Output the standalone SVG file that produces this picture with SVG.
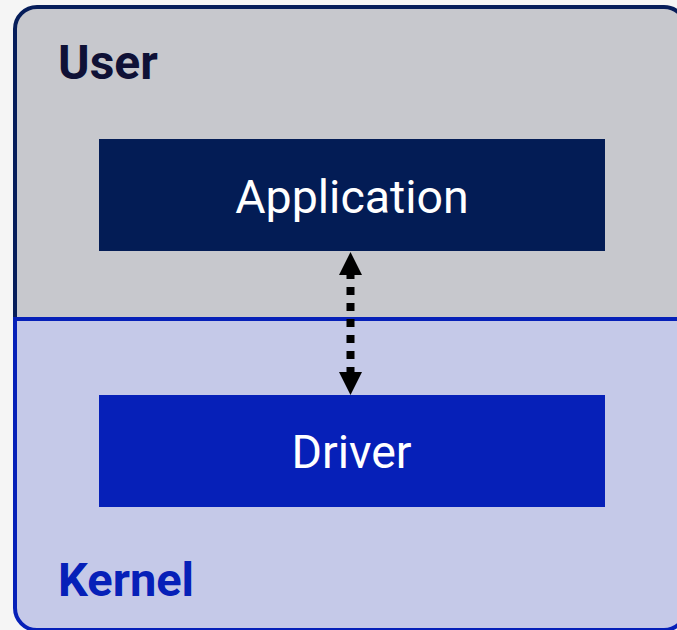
<svg xmlns="http://www.w3.org/2000/svg" width="677" height="630" viewBox="0 0 677 630">
  <style>
    .zone-label { font-family: Roboto, "Liberation Sans", sans-serif; font-weight: 700; font-size: 48px; }
    .box-label { font-family: Roboto, "Liberation Sans", sans-serif; font-size: 46.5px; fill: #ffffff; text-anchor: middle; }
  </style>
  <rect width="677" height="630" fill="#f5f5f5"/>

  <!-- User space -->
  <g id="user">
    <path d="M15,319 V29 A22,22 0 0 1 37,7 H664 A22,22 0 0 1 686,29 V319" fill="#c7c8cd" stroke="#061d5a" stroke-width="4"/>
    <text class="zone-label" x="58" y="79" fill="#0f1136">User</text>
  </g>

  <!-- Kernel space -->
  <g id="kernel">
    <path d="M15,319 V608 A22,22 0 0 0 37,630 H664 A22,22 0 0 0 686,608 V319 Z" fill="#c5c9e8" stroke="#0620b8" stroke-width="4"/>
    <text class="zone-label" x="58" y="596" fill="#0620b8" style="font-size:47px">Kernel</text>
  </g>

  <g id="application">
    <rect x="99" y="139" width="506" height="112" fill="#031c55"/>
    <text class="box-label" x="352" y="213">Application</text>
  </g>

  <g id="driver">
    <rect x="99" y="395" width="506" height="112" fill="#0620b8"/>
    <text class="box-label" x="351.5" y="468">Driver</text>
  </g>

  <!-- bidirectional call path between application and driver -->
  <g id="connectors">
    <line x1="350.5" y1="271" x2="350.5" y2="375" stroke="#000000" stroke-width="8" stroke-dasharray="8 8"/>
    <polygon points="350.5,252 362,275 339,275" fill="#000000"/>
    <polygon points="350.5,395 362,372 339,372" fill="#000000"/>
  </g>
</svg>
